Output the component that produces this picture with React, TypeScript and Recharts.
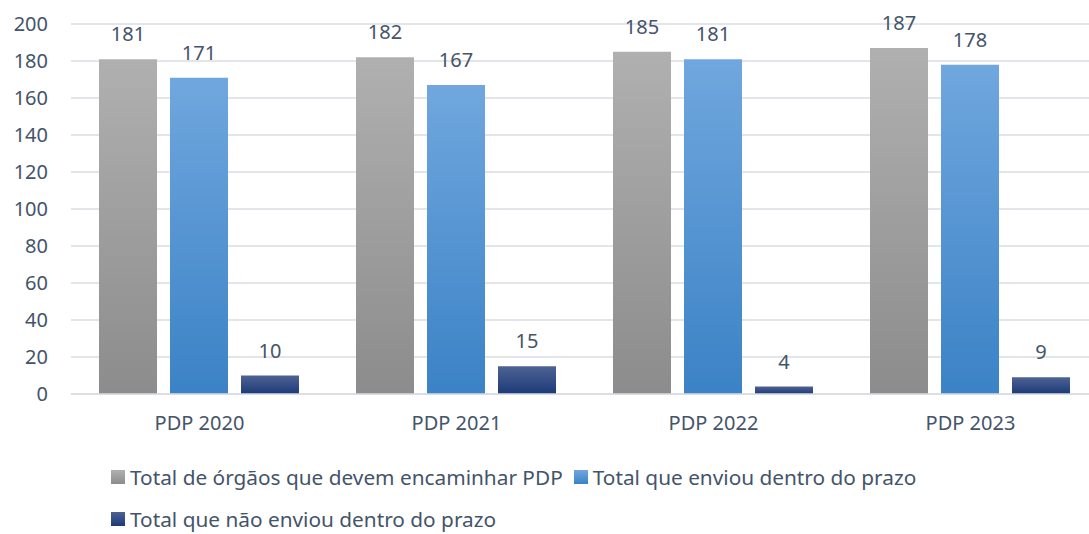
import { BarChart, Bar, XAxis, YAxis, CartesianGrid, LabelList } from 'recharts'

const CATEGORIAS = ['PDP 2020', 'PDP 2021', 'PDP 2022', 'PDP 2023']
const TOTAL_ORGAOS = [181, 182, 185, 187]
const ENVIOU_PRAZO = [171, 167, 181, 178]
const NAO_ENVIOU = [10, 15, 4, 9]
const Y_TICKS = [0, 20, 40, 60, 80, 100, 120, 140, 160, 180, 200]

const SERIES = [
  { key: 'total', nome: 'Total de órgãos que devem encaminhar PDP', grad: 'gCinza', top: '#b0b0b0', bot: '#8c8c8c' },
  { key: 'enviou', nome: 'Total que enviou dentro do prazo', grad: 'gAzul', top: '#70a7de', bot: '#3b82c6' },
  { key: 'naoEnviou', nome: 'Total que não enviou dentro do prazo', grad: 'gMarinho', top: '#4e6293', bot: '#1c3a78' },
]

const TXT = '#44546A', FONT = '"Noto Sans", sans-serif', FS = 20

const data = CATEGORIAS.map((c, i) => ({ cat: c, total: TOTAL_ORGAOS[i], enviou: ENVIOU_PRAZO[i], naoEnviou: NAO_ENVIOU[i] }))

// legenda em duas linhas, alinhada à esquerda como no Excel
const Legenda = () => (
  <div style={{ position: 'absolute', left: 111, top: 466, width: 830, display: 'flex', flexWrap: 'wrap', rowGap: 20,
    fontFamily: FONT, fontSize: 20.8, color: TXT }}>
    {SERIES.map(s => (
      <div key={s.key} style={{ display: 'flex', alignItems: 'center', marginRight: 11, lineHeight: '22px', height: 22 }}>
        <span style={{ width: 14, height: 14, marginRight: 5, background: `linear-gradient(${s.top}, ${s.bot})` }} />
        {s.nome}
      </div>
    ))}
  </div>
)

export default function App() {
  return (
    <div style={{ position: 'absolute', left: 0, top: 0, width: 1089, height: 534, overflow: 'hidden', background: '#fff' }}>
      <BarChart width={1099} height={534} data={data} margin={{ top: 24, right: 0, left: 0, bottom: 100 }}
        barGap={13} barCategoryGap={28} style={{ fontFamily: FONT }}>
        <defs>
          {SERIES.map(s => (
            <linearGradient key={s.grad} id={s.grad} x1="0" y1="0" x2="0" y2="1">
              <stop offset="0%" stopColor={s.top} />
              <stop offset="100%" stopColor={s.bot} />
            </linearGradient>
          ))}
        </defs>
        <CartesianGrid vertical={false} stroke="#d9dde3" strokeWidth={1.5} />
        <XAxis dataKey="cat" axisLine={{ stroke: '#d9dde3', strokeWidth: 1.5 }} tickLine={false} tickSize={0} tickMargin={22}
          tick={{ fontSize: FS, fill: TXT }} height={40} />
        <YAxis domain={[0, 200]} ticks={Y_TICKS} axisLine={false} tickLine={false} tickSize={0} tickMargin={23}
          tick={{ fontSize: FS, fill: TXT }} width={71} interval={0} />
        {SERIES.map(s => (
          <Bar key={s.key} dataKey={s.key} name={s.nome} fill={`url(#${s.grad})`} isAnimationActive={false}>
            <LabelList dataKey={s.key} position="top" offset={18} style={{ fontSize: FS, fill: TXT }} />
          </Bar>
        ))}
      </BarChart>
      <Legenda />
    </div>
  )
}
